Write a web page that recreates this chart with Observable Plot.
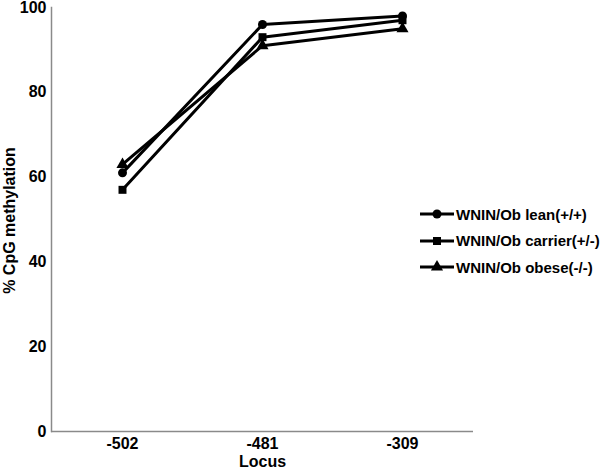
<!DOCTYPE html>
<html><head><meta charset="utf-8">
<script src="https://cdn.jsdelivr.net/npm/d3@7"></script>
<script src="https://cdn.jsdelivr.net/npm/@observablehq/plot@0.6"></script>
<style>
body{margin:0;background:#fff;font-family:"Liberation Sans",Arial,sans-serif;}
#wrap{position:relative;width:600px;height:471px;}
#legend{position:absolute;left:420px;top:201px;width:180px;font:bold 15px "Liberation Sans",Arial,sans-serif;color:#000;}
#legend .row{display:flex;align-items:center;height:26.5px;white-space:nowrap;}
#legend svg{margin-right:2px;flex:none;}
</style></head>
<body><div id="wrap"><div id="legend"></div></div>
<script>
const loci = ["-502", "-481", "-309"];
const seriesNames = ["WNIN/Ob lean(+/+)", "WNIN/Ob carrier(+/-)", "WNIN/Ob obese(-/-)"];
const seriesSymbols = ["circle", "square", "triangle"];
const leanValues = [61, 96, 98];
const carrierValues = [57, 93, 97];
const obeseValues = [63, 91, 95];
const yTicks = [0, 20, 40, 60, 80, 100];

const allValues = [leanValues, carrierValues, obeseValues];
const data = [];
allValues.forEach((vals, si) => vals.forEach((v, i) => data.push({locus: loci[i], value: v, series: seriesNames[si]})));

const chart = Plot.plot({
  width: 600, height: 471,
  marginLeft: 51, marginRight: 127, marginTop: 7, marginBottom: 40,
  style: {fontFamily: "Liberation Sans, Arial, sans-serif", fontSize: "16px", fontWeight: "bold", color: "#000", background: "#fff"},
  x: {type: "point", domain: loci, padding: 0.5, label: null},
  y: {domain: [0, 100], label: null},
  symbol: {domain: seriesNames, range: seriesSymbols},
  marks: [
    Plot.frame({anchor: "left", stroke: "#8a8a8a", strokeWidth: 1.5}),
    Plot.ruleY([0], {stroke: "#8a8a8a", strokeWidth: 1.5}),
    Plot.axisY({ticks: yTicks, tickSize: 0, tickPadding: 5, fontSize: 16, fontWeight: "bold", label: null}),
    Plot.axisX({tickSize: 0, tickPadding: 6, fontSize: 16, fontWeight: "bold", label: null}),
    Plot.text(["% CpG methylation"], {frameAnchor: "left", textAnchor: "middle", dx: -42, dy: 1, rotate: -90, fontSize: 16, fontWeight: "bold"}),
    Plot.text(["Locus"], {frameAnchor: "bottom", dy: 35, fontSize: 16, fontWeight: "bold"}),
    Plot.line(data, {x: "locus", y: "value", z: "series", stroke: "#000", strokeWidth: 3}),
    Plot.dot(data, {x: "locus", y: "value", symbol: "series", fill: "#000", r: 4.5})
  ]
});
document.getElementById("wrap").prepend(chart);

const legend = document.getElementById("legend");
const symPaths = {circle: d3.symbolCircle, square: d3.symbolSquare, triangle: d3.symbolTriangle};
seriesNames.forEach((name, i) => {
  const row = document.createElement("div");
  row.className = "row";
  const s = d3.create("svg").attr("width", 34).attr("height", 14);
  s.append("line").attr("x1", 0).attr("x2", 34).attr("y1", 7).attr("y2", 7).attr("stroke", "#000").attr("stroke-width", 3);
  s.append("path").attr("transform", "translate(17,7)").attr("d", d3.symbol(symPaths[seriesSymbols[i]], 64)());
  row.appendChild(s.node());
  const t = document.createElement("span");
  t.textContent = name;
  row.appendChild(t);
  legend.appendChild(row);
});
</script></body></html>
